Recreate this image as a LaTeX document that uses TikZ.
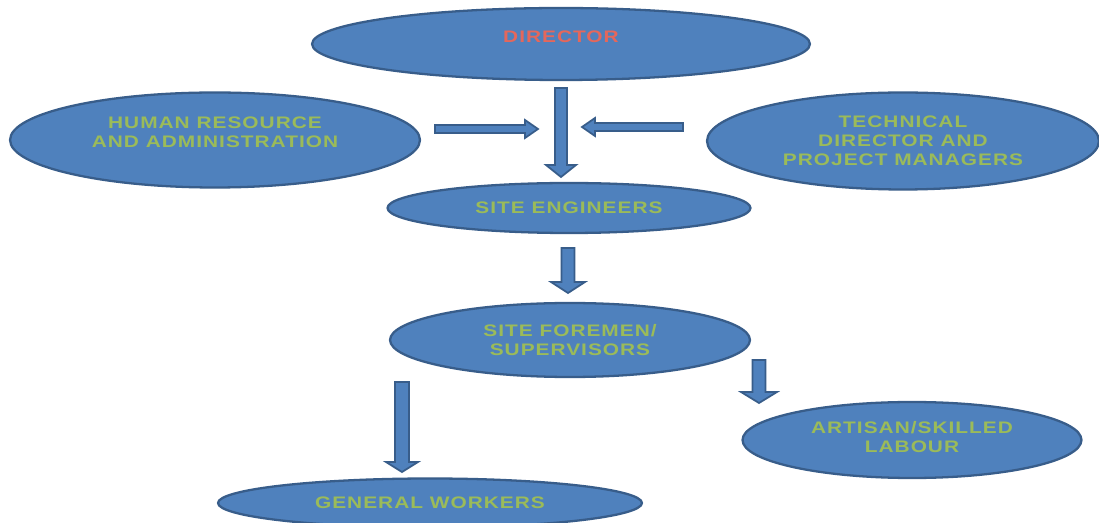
\documentclass[tikz,border=0pt]{standalone}
\usepackage{fontspec}
\setmainfont{Liberation Sans}
\newfontfamily\boxfont{Liberation Sans}[FakeStretch=1.25,LetterSpace=6]
\usetikzlibrary{calc,shapes.geometric}
\definecolor{boxblue}{HTML}{4F81BD}
\definecolor{boxedge}{HTML}{385D8A}
\definecolor{boxtext}{HTML}{9BBB59}
\definecolor{headtext}{HTML}{E5675B}
\tikzset{
  orgbox/.style={ellipse, draw=boxedge, fill=boxblue, line width=1.3pt, inner sep=0pt,
    align=center, text=boxtext, font=\boxfont\bfseries\fontsize{9.5}{10.8}\selectfont},
  blockarr/.style={draw=boxedge, fill=boxblue, line width=1pt, line join=miter}
}
% #1 shaft half width, #2 head half width, #3 head length, #4 from, #5 to
\newcommand\blockarrow[5]{%
  \coordinate (ba) at ($(#5)!#3!(#4)$);
  \draw[blockarr] ($(#4)!#1!90:(#5)$) -- ($(ba)!#1!-90:(#4)$) -- ($(ba)!#2!-90:(#4)$) -- (#5)
    -- ($(ba)!#2!90:(#4)$) -- ($(ba)!#1!90:(#4)$) -- ($(#4)!#1!-90:(#5)$) -- cycle;}

\begin{document}
\begin{tikzpicture}[x=0.02cm, y=-0.02cm]
		%%%%% START %%%%%
		\useasboundingbox (0, 0) rectangle (1099, 523);
		\clip (0, 0) rectangle (1099, 523);
		\fill[white] (0, 0) rectangle (1099, 523);
		
		\node[orgbox, minimum width=9.96cm, minimum height=1.44cm, text=headtext, text depth=8pt] (dir) at (561, 44) {DIRECTOR};
		\node[orgbox, minimum width=8.2cm, minimum height=1.9cm, text depth=8.5pt] (hr) at (215, 140) {HUMAN RESOURCE\\AND ADMINISTRATION};
		\node[orgbox, minimum width=7.84cm, minimum height=1.94cm] (tech) at (903, 141) {TECHNICAL\\DIRECTOR AND\\PROJECT MANAGERS};
		\node[orgbox, minimum width=7.26cm, minimum height=1.0cm] (eng) at (569, 208) {SITE ENGINEERS};
		\node[orgbox, minimum width=7.2cm, minimum height=1.48cm] (fore) at (570, 340) {SITE FOREMEN/\\SUPERVISORS};
		\node[orgbox, minimum width=6.78cm, minimum height=1.52cm, text depth=3pt] (art) at (912, 440) {ARTISAN/SKILLED\\LABOUR};
		\node[orgbox, minimum width=8.48cm, minimum height=0.98cm] (gen) at (430, 503) {GENERAL WORKERS};
		
		% arrow ends
		\coordinate (dir-s) at (561, 88);
		\coordinate (eng-n) at (561, 177);
		\coordinate (hr-e) at (435, 129);
		\coordinate (hr-t) at (538, 129);
		\coordinate (tech-w) at (683, 127);
		\coordinate (tech-t) at (582, 127);
		\coordinate (eng-s) at (568, 248);
		\coordinate (fore-n) at (568, 293);
		\coordinate (fore-sw) at (402, 382);
		\coordinate (gen-n) at (402, 472);
		\coordinate (fore-se) at (759, 360);
		\coordinate (art-n) at (759, 403);
		
		\blockarrow{0.12cm}{0.30cm}{0.24cm}{dir-s}{eng-n}
		\blockarrow{0.08cm}{0.18cm}{0.26cm}{hr-e}{hr-t}
		\blockarrow{0.08cm}{0.18cm}{0.26cm}{tech-w}{tech-t}
		\blockarrow{0.13cm}{0.34cm}{0.22cm}{eng-s}{fore-n}
		\blockarrow{0.14cm}{0.32cm}{0.20cm}{fore-sw}{gen-n}
		\blockarrow{0.13cm}{0.36cm}{0.22cm}{fore-se}{art-n}
		%%%%% END %%%%%
\end{tikzpicture}
\end{document}
